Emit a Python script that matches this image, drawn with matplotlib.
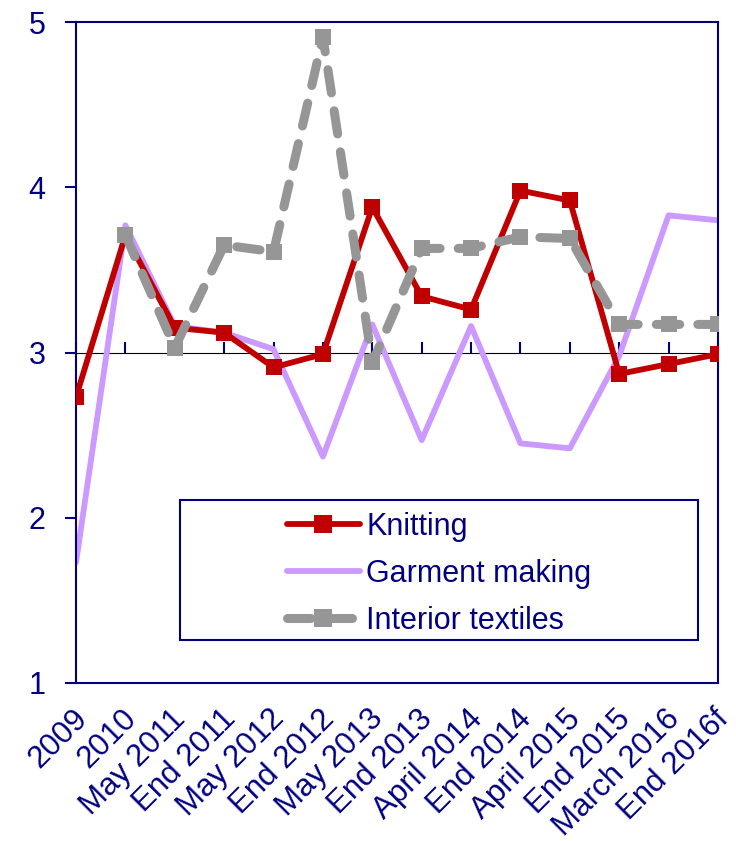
import matplotlib
matplotlib.use("Agg")
import matplotlib.pyplot as plt
import matplotlib.transforms as mtrans
from matplotlib.patches import Rectangle
import numpy as np

plt.rcParams['font.family'] = ['Liberation Sans', 'DejaVu Sans']

categories = ["2009", "2010", "May 2011", "End 2011", "May 2012", "End 2012",
              "May 2013", "End 2013", "April 2014", "End 2014", "April 2015",
              "End 2015", "March 2016", "End 2016f"]
knitting = [2.73, 3.71, 3.15, 3.12, 2.91, 2.99, 3.88, 3.34, 3.26, 3.98, 3.92, 2.87, 2.93, 2.99]
garment = [1.73, 3.77, 3.16, 3.12, 3.02, 2.37, 3.17, 2.47, 3.16, 2.45, 2.42, 2.98, 3.83, 3.80]
interior = [np.nan, 3.71, 3.03, 3.65, 3.61, 4.91, 2.94, 3.63, 3.63, 3.70, 3.69, 3.17, 3.17, 3.17]
series_names = ["Knitting", "Garment making", "Interior textiles"]
yticks = [1, 2, 3, 4, 5]

NAVY = "#000080"
RED = "#C00000"
LILAC = "#CC99FF"
GREY = "#969696"

fig = plt.figure(figsize=(7.36, 8.41), dpi=100)
ax = fig.add_axes([0.1033, 0.1879, 0.8722, 0.7859])
x = np.arange(len(categories))

ax.plot(x, knitting, color=RED, lw=4.2, marker='s', ms=12, mew=0,
        label=series_names[0], zorder=3, solid_capstyle='round')
ax.plot(x, garment, color=LILAC, lw=4.2, label=series_names[1], zorder=2,
        solid_capstyle='round')
ax.plot(x, interior, color=GREY, lw=6.5, marker='s', ms=12, mew=0,
        dashes=(2.6, 2.0), dash_capstyle='round', label=series_names[2], zorder=4)

ax.set_xlim(0, len(categories) - 1)
ax.set_ylim(1, 5)
ax.set_yticks(yticks)
ax.set_yticklabels([str(v) for v in yticks])
ax.tick_params(axis='y', direction='out', length=8, width=1.5, color=NAVY,
               labelcolor=NAVY, labelsize=22, pad=14)
ax.set_xticks(x)
ax.set_xticklabels(categories, rotation=45, ha='right', rotation_mode='anchor')
ax.tick_params(axis='x', length=0, labelcolor=NAVY, labelsize=22.5, pad=15)
offset = mtrans.ScaledTranslation(-4 / 100, 0, fig.dpi_scale_trans)
for lbl in ax.get_xticklabels():
    lbl.set_transform(lbl.get_transform() + offset)
for s in ax.spines.values():
    s.set_color(NAVY)
    s.set_linewidth(1.5)

sec = ax.secondary_xaxis(0.5)
sec.set_xticks(x)
sec.set_xticklabels([])
sec.tick_params(axis='x', direction='out', length=8, width=1.5, color=NAVY)
sec.spines['bottom'].set_color(NAVY)
sec.spines['bottom'].set_linewidth(1.5)

# legend frame
ax.add_patch(Rectangle((0.162, 0.065), 0.807, 0.212, transform=ax.transAxes,
                       fill=True, facecolor='white', edgecolor=NAVY, lw=1.5, zorder=5))
leg = ax.legend(loc='center', bbox_to_anchor=(0.162 + 0.807 / 2, 0.065 + 0.212 / 2 - 0.006),
                frameon=False, fontsize=22, handlelength=2.4, handletextpad=0.2,
                labelspacing=0.55, markerscale=1.1)
leg.set_zorder(6)
for t in leg.get_texts():
    t.set_color(NAVY)

fig.savefig("out.png", dpi=100, facecolor='white')
